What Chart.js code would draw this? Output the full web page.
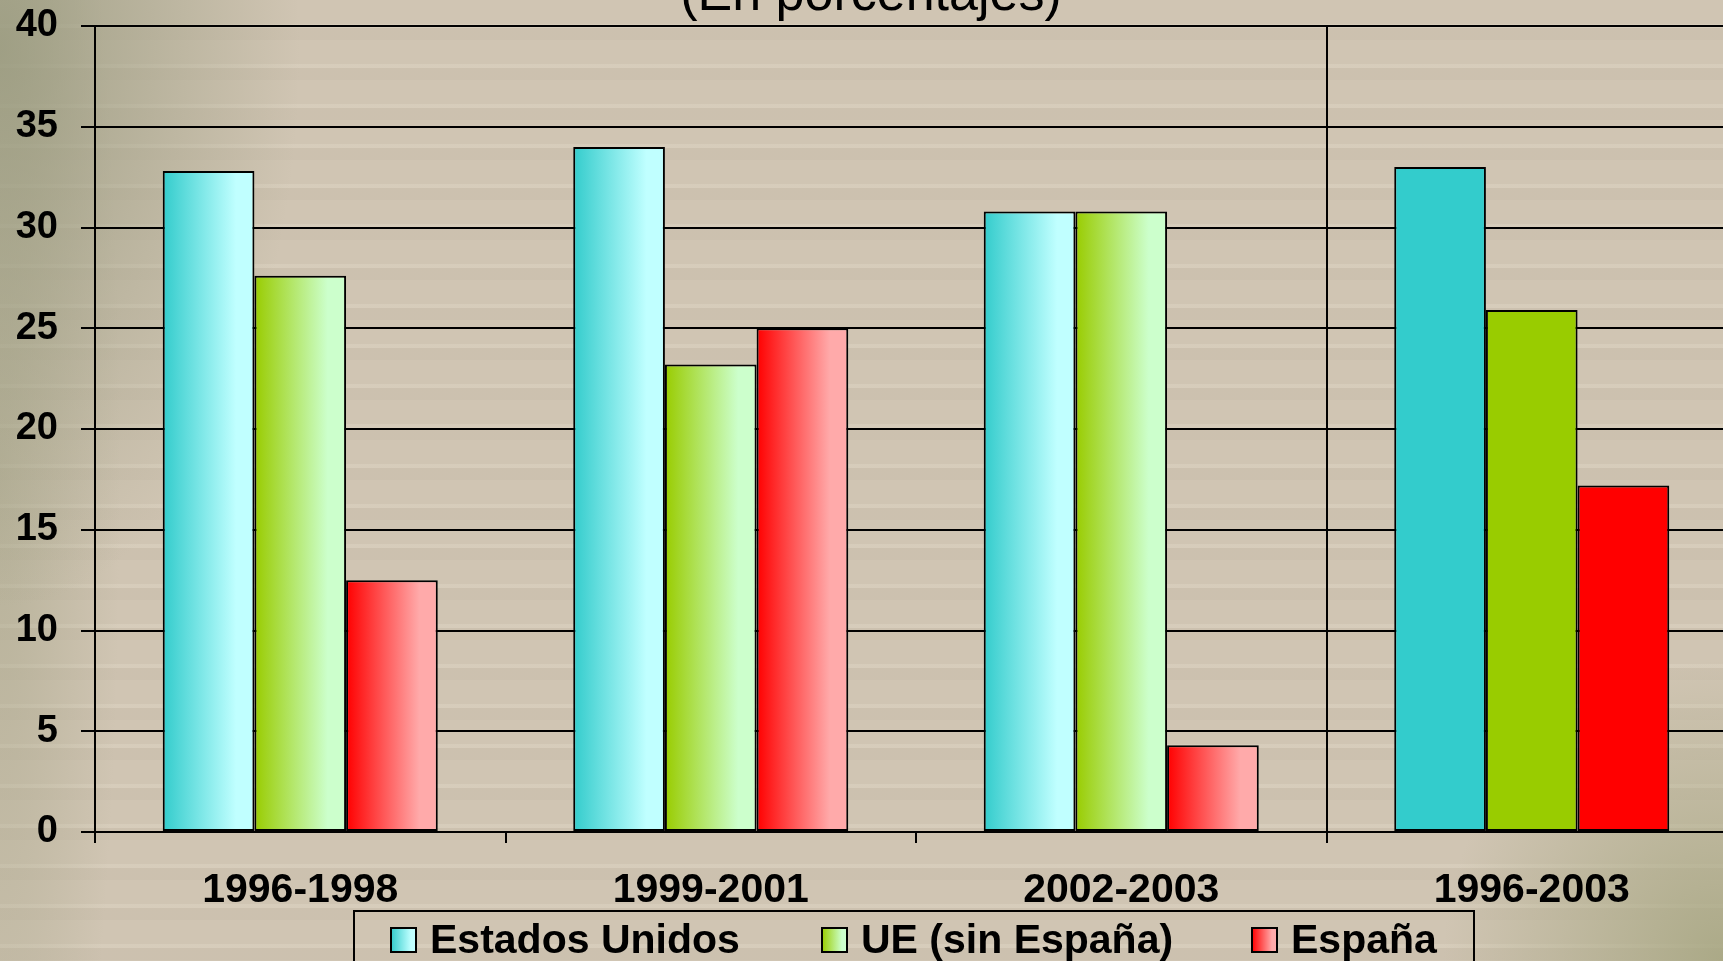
<!DOCTYPE html>
<html>
<head>
<meta charset="utf-8">
<title>(En porcentajes)</title>
<script src="https://cdn.jsdelivr.net/npm/chart.js@4"></script>
<style>
    html, body {
        margin: 0;
        padding: 0;
        overflow: hidden;
    }
    body {
        width: 1723px;
        height: 961px;
        background:
            radial-gradient(ellipse 300px 560px at 0% 5%, rgba(150, 152, 124, 0.8), rgba(150, 152, 124, 0) 100%),
            radial-gradient(ellipse 120px 900px at 0% 50%, rgba(160, 160, 130, 0.5), rgba(160, 160, 130, 0) 100%),
            radial-gradient(ellipse 280px 300px at 100% 100%, rgba(165, 165, 128, 0.85), rgba(165, 165, 128, 0) 100%),
            repeating-linear-gradient(180deg, rgba(255, 250, 235, 0) 0 24px, rgba(255, 250, 235, 0.14) 24px 28px, rgba(110, 95, 75, 0.04) 28px 40px),
            #d0c5b3;
    }
    canvas {
        display: block;
    }
</style>
</head>
<body>
<canvas id="growth-chart" width="1740" height="961"></canvas>
<script>
// Variables
const periods = ['1996-1998', '1999-2001', '2002-2003', '1996-2003'];
const seriesNames = ['Estados Unidos', 'UE (sin España)', 'España'];

const estadosUnidos = [32.8, 34.0, 30.8, 33.0];
const ueSinEspana = [27.6, 23.2, 30.8, 25.9];
const espana = [12.5, 25.0, 4.3, 17.2];

const yTicks = [0, 5, 10, 15, 20, 25, 30, 35, 40];
const chartTitle = '(En porcentajes)';

// dark edge / light edge of each series, the last period is drawn flat
const darkColors = ['#33cccc', '#99cc00', '#ff0000'];
const lightColors = ['#c0ffff', '#ccffcc', '#ffaaaa'];

const catPct = 0.67;
const fontFamily = '"Liberation Sans", Arial, sans-serif';


// ---------------- Gradient fill for the bars -------------------------------------------
function barFill(c) {
    const chart = c.chart;
    const ds = c.datasetIndex;
    const i = c.dataIndex;
    if (i === undefined || i === periods.length - 1) return darkColors[ds];
    const x = chart.scales.x;
    if (!chart.chartArea || !x) return darkColors[ds];

    const catW = x.width / periods.length;
    const groupW = catW * catPct;
    const barW = groupW / seriesNames.length;
    const left = x.getPixelForValue(i) - groupW / 2 + ds * barW;

    const g = chart.ctx.createLinearGradient(left, 0, left + barW, 0);
    g.addColorStop(0, darkColors[ds]);
    g.addColorStop(0.8, lightColors[ds]);
    g.addColorStop(1, lightColors[ds]);
    return g;
}

function makeDataset(name, values) {
    return {
        label: name,
        data: values,
        backgroundColor: barFill,
        borderColor: '#000',
        borderWidth: 2,
        borderSkipped: false,
        categoryPercentage: catPct,
        barPercentage: 1.0
    };
}

// ---------------- Title (cut by the top of the picture) + boxed legend -----------------
const decorations = {
    id: 'decorations',
    afterDraw(chart) {
        const ctx = chart.ctx;
        ctx.save();

        // title
        ctx.fillStyle = '#000';
        ctx.font = '52px ' + fontFamily;
        ctx.textAlign = 'center';
        ctx.textBaseline = 'alphabetic';
        ctx.fillText(chartTitle, 871, 10);

        // legend box
        ctx.lineWidth = 2;
        ctx.strokeStyle = '#000';
        ctx.strokeRect(354, 911, 1120, 80);

        const markerX = [391, 822, 1252];
        ctx.font = 'bold 41px ' + fontFamily;
        ctx.textAlign = 'left';
        chart.data.datasets.forEach((d, k) => {
            const mx = markerX[k];
            const g = ctx.createLinearGradient(mx, 0, mx + 25, 0);
            g.addColorStop(0, darkColors[k]);
            g.addColorStop(0.8, lightColors[k]);
            g.addColorStop(1, lightColors[k]);
            ctx.fillStyle = g;
            ctx.fillRect(mx, 928, 25, 24);
            ctx.strokeRect(mx, 928, 25, 24);
            ctx.fillStyle = '#000';
            ctx.fillText(d.label, mx + 39, 953);
        });

        ctx.restore();
    }
};


// -------------------- Chart.js Code -----------------------------------------------------
const ctx = document.getElementById('growth-chart');
const growthChart = new Chart(ctx, {
    type: 'bar',
    data: {
        labels: periods,
        datasets: [
            makeDataset(seriesNames[0], estadosUnidos),
            makeDataset(seriesNames[1], ueSinEspana),
            makeDataset(seriesNames[2], espana)
        ]
    },
    options: {
        responsive: false,
        animation: false,
        layout: {
            padding: { top: 26, left: 15, right: 3, bottom: 51 }
        },
        plugins: {
            legend: { display: false },
            tooltip: { enabled: false }
        },
        scales: {
            x: {
                afterFit: (axis) => {
                    axis.height = 78;
                    axis.paddingLeft = 0;
                    axis.paddingRight = 0;
                },
                grid: {
                    offset: true,
                    color: (c) => c.index === 3 ? '#000' : 'rgba(0,0,0,0)',
                    lineWidth: 2,
                    tickLength: 11,
                    tickColor: '#000'
                },
                border: { color: '#000', width: 2 },
                ticks: {
                    color: '#000',
                    padding: 23,
                    font: { family: fontFamily, size: 41, weight: 'bold' }
                }
            },
            y: {
                min: yTicks[0],
                max: yTicks[yTicks.length - 1],
                afterBuildTicks: (axis) => {
                    axis.ticks = yTicks.map(v => ({ value: v }));
                },
                afterFit: (axis) => {
                    axis.width = 80;
                    axis.paddingTop = 0;
                    axis.paddingBottom = 0;
                },
                grid: {
                    color: '#000',
                    lineWidth: 2,
                    tickLength: 14,
                    tickColor: '#000'
                },
                border: { color: '#000', width: 2 },
                ticks: {
                    color: '#000',
                    padding: 23,
                    font: { family: fontFamily, size: 38, weight: 'bold' }
                }
            }
        }
    },
    plugins: [decorations]
});
</script>
</body>
</html>
